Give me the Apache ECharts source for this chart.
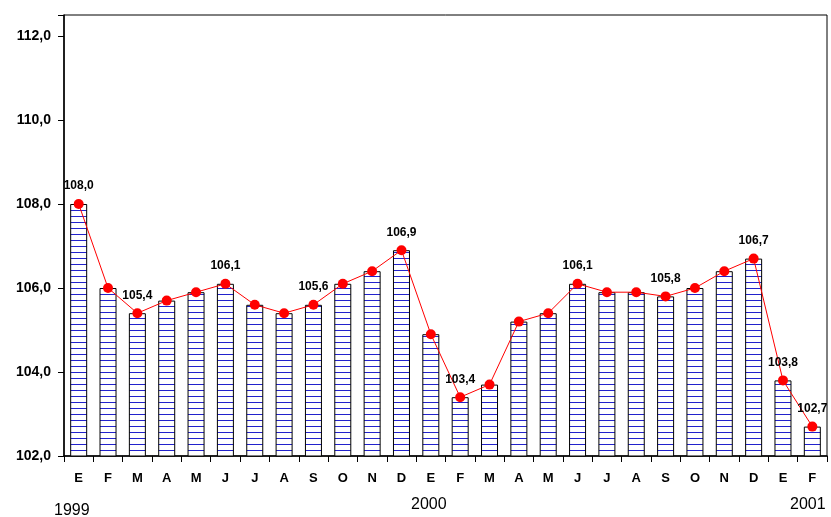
<!DOCTYPE html>
<html><head><meta charset="utf-8">
<script src="https://cdn.jsdelivr.net/npm/echarts@6/dist/echarts.min.js"></script>
<style>html,body{margin:0;padding:0;background:#fff}#c{width:831px;height:517px}</style>
</head><body><div id="c"></div>
<script>
const months = ['E','F','M','A','M','J','J','A','S','O','N','D','E','F','M','A','M','J','J','A','S','O','N','D','E','F'];
const values = [108.0,106.0,105.4,105.7,105.9,106.1,105.6,105.4,105.6,106.1,106.4,106.9,104.9,103.4,103.7,105.2,105.4,106.1,105.9,105.9,105.8,106.0,106.4,106.7,103.8,102.7];
const labelled = [0,2,5,8,11,13,17,20,23,24,25];
const yearLabels = ['1999','2000','2001'];

const pc = document.createElement('canvas');
pc.width = 4; pc.height = 6;
const pctx = pc.getContext('2d');
pctx.fillStyle = '#ffffff'; pctx.fillRect(0,0,4,6);
pctx.fillStyle = '#2222cc'; pctx.fillRect(0,0,4,1);

const chart = echarts.init(document.getElementById('c'));
const fmt = v => v.toFixed(1).replace('.', ',');
const FF = 'Arial, Liberation Sans, sans-serif';
chart.setOption({
  animation: false,
  backgroundColor: '#fff',
  grid: {left: 64, right: 4, top: 15, bottom: 61, show: true, borderColor: '#000', borderWidth: 1},
  xAxis: {
    type: 'category', data: months,
    axisLine: {lineStyle: {color: '#000', width: 1.5}},
    axisTick: {show: true, length: 6, lineStyle: {color: '#000'}},
    axisLabel: {color: '#000', fontFamily: FF, fontWeight: 'bold', fontSize: 13, margin: 16}
  },
  yAxis: {
    type: 'value', min: 102, max: 112.5, interval: 2,
    axisLine: {show: true, lineStyle: {color: '#000', width: 1.5}},
    axisTick: {show: true, length: 6, lineStyle: {color: '#000'}},
    splitLine: {show: false},
    axisLabel: {color: '#000', fontFamily: FF, fontWeight: 'bold', fontSize: 14, margin: 13,
      formatter: v => (Math.abs(v % 2) < 1e-9 ? fmt(v) : '')}
  },
  series: [
    {type: 'bar', data: values, barWidth: 17,
     itemStyle: {color: {image: pc, repeat: 'repeat'}, borderColor: '#000', borderWidth: 1}},
    {type: 'line', data: values.map((v,i) => ({value: v, label: {show: labelled.includes(i)}})),
     symbol: 'circle', symbolSize: 10,
     lineStyle: {color: '#ff0000', width: 1}, itemStyle: {color: '#ff0000'},
     label: {position: 'top', distance: 7, formatter: p => fmt(p.value), color: '#000',
       fontFamily: FF, fontWeight: 'bold', fontSize: 12}}
  ],
  graphic: [
    {type: 'text', left: 54, top: 503, style: {text: yearLabels[0], fontSize: 16, fontFamily: FF, fill: '#000'}},
    {type: 'text', left: 411, top: 497, style: {text: yearLabels[1], fontSize: 16, fontFamily: FF, fill: '#000'}},
    {type: 'text', left: 790, top: 497, style: {text: yearLabels[2], fontSize: 16, fontFamily: FF, fill: '#000'}}
  ]
});
</script></body></html>
